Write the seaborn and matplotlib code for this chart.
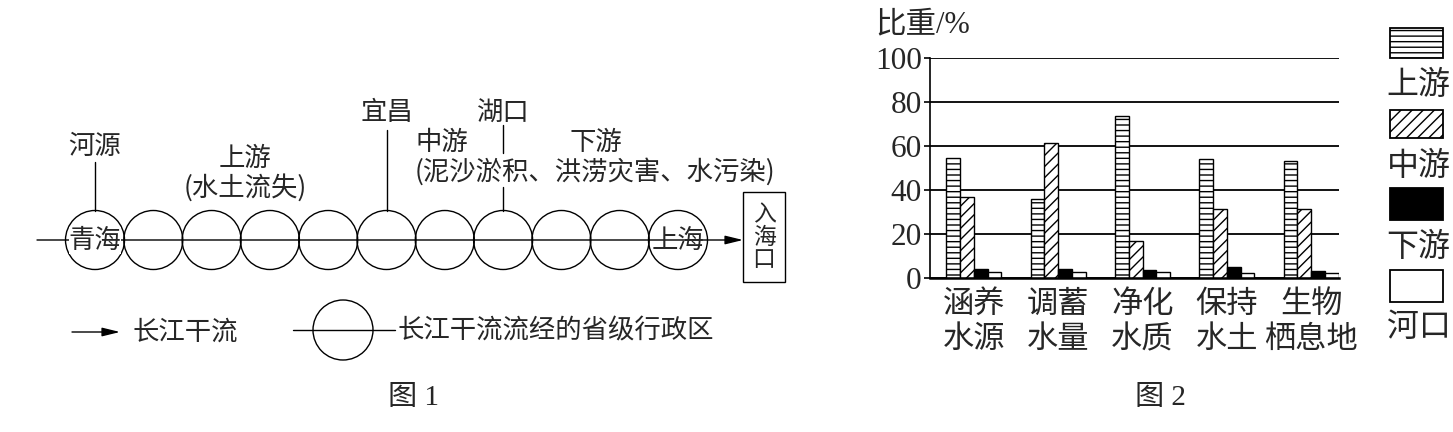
import numpy as np
import pandas as pd
import matplotlib
matplotlib.use('Agg')
import matplotlib.pyplot as plt
from matplotlib.patches import Circle, Rectangle
import seaborn as sns

# ---------------- data (图2) ----------------
categories = ['涵养\n水源', '调蓄\n水量', '净化\n水质', '保持\n水土', '生物\n栖息地']
reaches = ['上游', '中游', '下游', '河口']
upper = [54.5, 35.9, 73.8, 54.1, 53.5]
middle = [36.8, 61.4, 17.0, 31.7, 31.4]
lower = [4.4, 4.1, 3.8, 5.0, 3.5]
estuary = [3.0, 3.0, 2.7, 2.6, 2.3]
yticks = [0, 20, 40, 60, 80, 100]

# ---------------- diagram labels (图1) ----------------
n_provinces = 11
source_label = '青海'
mouth_label = '上海'

sns.set_theme(style='white')
plt.rcParams['font.family'] = ['Noto Sans CJK SC', 'DejaVu Sans']
plt.rcParams['hatch.linewidth'] = 1.0
SERIF = ['Liberation Serif', 'Noto Sans CJK SC']

W, H = 1453, 432
fig = plt.figure(figsize=(W / 100, H / 100), dpi=100)
fig.patch.set_facecolor('white')

# overlay axes in pixel coordinates for diagram / captions / legend
ax0 = fig.add_axes([0, 0, 1, 1])
ax0.set_xlim(0, W)
ax0.set_ylim(H, 0)
ax0.axis('off')

LW = 1.0
FS1 = 19
cy, r, x0, dx = 240, 29.5, 95, 58.3
top = cy - r

ax0.annotate('', xy=(743, cy), xytext=(37, cy),
             arrowprops=dict(arrowstyle='-|>,head_length=0.9,head_width=0.22',
                             color='black', lw=LW, shrinkA=0, shrinkB=0))
for i in range(n_provinces):
    ax0.add_patch(Circle((x0 + i * dx, cy), r, fill=False, ec='black', lw=LW))
ax0.text(x0, cy, source_label, ha='center', va='center', fontsize=FS1,
         bbox=dict(fc='white', ec='none', pad=0))
ax0.text(x0 + 10 * dx, cy, mouth_label, ha='center', va='center', fontsize=FS1)

ax0.text(95, 147, '河源', ha='center', va='center', fontsize=FS1)
ax0.plot([95, 95], [162, top], color='black', lw=LW)
ax0.text(245, 158, '上游', ha='center', va='center', fontsize=FS1)
ax0.text(245, 188, '(水土流失)', ha='center', va='center', fontsize=FS1)
xa = x0 + 5 * dx
ax0.text(xa, 113, '宜昌', ha='center', va='center', fontsize=FS1)
ax0.plot([xa, xa], [130, top], color='black', lw=LW)
xb = x0 + 7 * dx
ax0.text(xb, 113, '湖口', ha='center', va='center', fontsize=FS1)
ax0.plot([xb, xb], [125, 153], color='black', lw=LW)
ax0.plot([xb, xb], [187, top], color='black', lw=LW)
ax0.text(442, 142, '中游', ha='center', va='center', fontsize=FS1)
ax0.text(596, 142, '下游', ha='center', va='center', fontsize=FS1)
ax0.text(595, 172, '(泥沙淤积、洪涝灾害、水污染)', ha='center', va='center', fontsize=FS1)

ax0.add_patch(Rectangle((743, 192), 42, 90, fill=False, ec='black', lw=LW))
ax0.text(764, 237, '入\n海\n口', ha='center', va='center', fontsize=16.5, linespacing=0.95)

# diagram legend row
ax0.annotate('', xy=(120, 332), xytext=(72, 332),
             arrowprops=dict(arrowstyle='-|>,head_length=0.9,head_width=0.22',
                             color='black', lw=LW, shrinkA=0, shrinkB=0))
ax0.text(133, 332, '长江干流', ha='left', va='center', fontsize=FS1)
ax0.add_patch(Circle((343, 330), 30, fill=False, ec='black', lw=LW))
ax0.plot([293, 395], [330, 330], color='black', lw=LW)
ax0.text(398, 331, '长江干流流经的省级行政区', ha='left', va='center', fontsize=FS1)

ax0.text(413, 398, '图 1', ha='center', va='center', fontsize=21, family=SERIF)
ax0.text(1160, 398, '图 2', ha='center', va='center', fontsize=21, family=SERIF)
ax0.text(875, 25, '比重/%', ha='left', va='center', fontsize=22, family=SERIF)

# ---------------- bar chart ----------------
df = pd.DataFrame({
    'category': np.repeat(categories, len(reaches)),
    'reach': reaches * len(categories),
    'value': np.ravel(np.column_stack([upper, middle, lower, estuary])),
})
ax = fig.add_axes([930 / W, (H - 278.3) / H, 409 / W, 220 / H])
ax.patch.set_alpha(0)
palette = {'上游': 'white', '中游': 'white', '下游': 'black', '河口': 'white'}
hatches = {'上游': '---', '中游': '///', '下游': '', '河口': ''}
sns.barplot(data=df, x='category', y='value', hue='reach', hue_order=reaches,
            order=categories, palette=palette, width=0.649, saturation=1,
            edgecolor='black', linewidth=1.0, legend=False, ax=ax)
for cont, rch in zip(ax.containers, reaches):
    for b in cont:
        b.set_hatch(hatches[rch])
        b.set_edgecolor('black')

ax.set_xlim(-0.52, 4.33)
ax.set_ylim(0, 100)
ax.set_yticks(yticks)
ax.set_yticklabels([str(v) for v in yticks], family=SERIF, fontsize=22.5)
ax.set_xlabel('')
ax.set_ylabel('')
ax.grid(axis='y', color='black', lw=1.3)
ax.grid(axis='x', visible=False)
ax.set_axisbelow(True)
for s in ['top', 'right']:
    ax.spines[s].set_visible(False)
ax.spines['left'].set_color('black')
ax.spines['left'].set_linewidth(1.2)
ax.spines['bottom'].set_color('black')
ax.spines['bottom'].set_linewidth(1.8)
ax.tick_params(axis='y', which='major', direction='out', length=4, width=1.2,
               color='black', pad=2, left=True)
ax.tick_params(axis='x', length=0, pad=7, labelsize=22.5)
for t in ax.get_xticklabels():
    t.set_linespacing(1.12)

# chart legend (labels below swatches)
leg_x, leg_w = 1390, 53
swatches = [(28, 30), (110, 28), (188, 32), (270, 32)]
label_y = [85, 166, 247, 327]
for (y0, h), rch, ly in zip(swatches, reaches, label_y):
    ax0.add_patch(Rectangle((leg_x, y0), leg_w, h, facecolor=palette[rch],
                            hatch=hatches[rch], edgecolor='black', lw=1.3))
    ax0.text(leg_x + leg_w / 2 + 2, ly, rch, ha='center', va='center', fontsize=23)

fig.savefig('out.png', dpi=100, facecolor='white')
